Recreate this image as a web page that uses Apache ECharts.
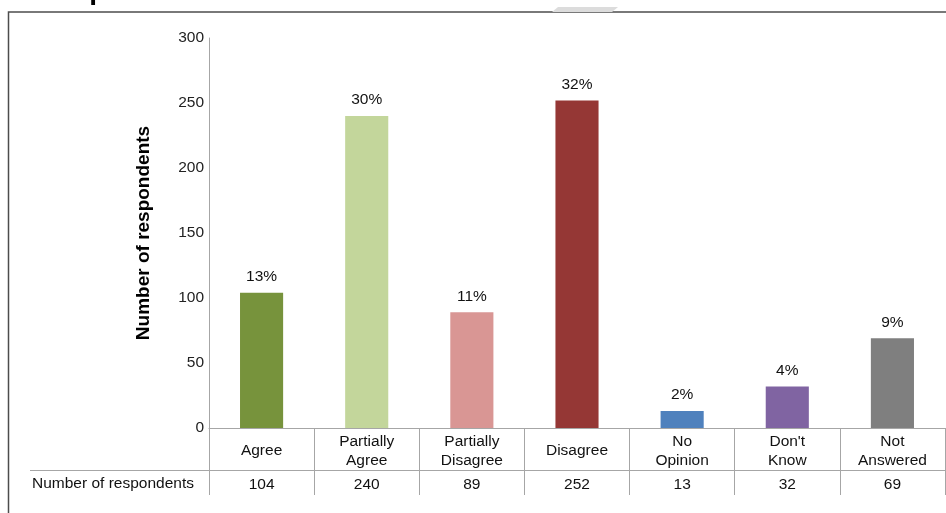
<!DOCTYPE html>
<html>
<head>
<meta charset="utf-8">
<script src="https://cdn.jsdelivr.net/npm/echarts@6/dist/echarts.min.js"></script>
<style>
html,body{margin:0;padding:0;background:#fff;}
#chart{width:946px;height:513px;}
</style>
</head>
<body>
<div id="chart"></div>
<script>
// ---- data ----
var categories = ['Agree', 'Partially\nAgree', 'Partially\nDisagree', 'Disagree', 'No\nOpinion', "Don't\nKnow", 'Not\nAnswered'];
var respondents = [104, 240, 89, 252, 13, 32, 69];
var percentLabels = ['13%', '30%', '11%', '32%', '2%', '4%', '9%'];
var barColors = ['#77933C', '#C3D69B', '#D99694', '#953735', '#4F81BD', '#8064A2', '#7F7F7F'];
var seriesName = 'Number of respondents';
var yTicks = [0, 50, 100, 150, 200, 250, 300];
var titleText = 'Responses';

var FONT = 'Liberation Sans, Arial, sans-serif';
var chart = echarts.init(document.getElementById('chart'));

var option = {
  animation: false,
  backgroundColor: '#fff',
  grid: { left: 209, right: 1, top: 38, bottom: 85, containLabel: false },
  xAxis: [
    {
      type: 'category',
      data: categories,
      position: 'bottom',
      axisLine: { show: true, lineStyle: { color: '#a6a6a6', width: 1 } },
      axisTick: { show: true, alignWithLabel: false, length: 42, lineStyle: { color: '#a6a6a6' } },
      axisLabel: { color: '#111', fontFamily: FONT, fontSize: 15.5, lineHeight: 19, margin: 23, verticalAlign: 'middle', interval: 0 }
    },
    {
      type: 'category',
      data: respondents.map(String),
      position: 'bottom',
      offset: 42,
      axisLine: { show: true, lineStyle: { color: '#a6a6a6', width: 1 } },
      axisTick: { show: true, alignWithLabel: false, length: 25, lineStyle: { color: '#a6a6a6' } },
      axisLabel: { color: '#111', fontFamily: FONT, fontSize: 15.5, margin: 15, verticalAlign: 'middle', interval: 0 }
    }
  ],
  yAxis: {
    type: 'value',
    min: yTicks[0],
    max: yTicks[yTicks.length - 1],
    interval: yTicks[1] - yTicks[0],
    name: seriesName,
    nameLocation: 'middle',
    nameGap: 56,
    nameRotate: 90,
    nameTextStyle: { fontFamily: FONT, fontSize: 19, fontWeight: 'bold', color: '#000' },
    axisLine: { show: true, lineStyle: { color: '#a6a6a6' } },
    axisTick: { show: false },
    splitLine: { show: false },
    axisLabel: { color: '#222', fontFamily: FONT, fontSize: 15.5, margin: 5 }
  },
  series: [
    {
      type: 'bar',
      name: seriesName,
      xAxisIndex: 0,
      barWidth: '41%',
      data: respondents.map(function (v, i) {
        return { value: v, itemStyle: { color: barColors[i] } };
      }),
      label: {
        show: true,
        position: 'top',
        distance: 8,
        fontFamily: FONT,
        fontSize: 15.5,
        color: '#111',
        formatter: function (p) { return percentLabels[p.dataIndex]; }
      }
    }
  ],
  graphic: [
    {
      type: 'rect',
      shape: { x: 8.5, y: 12, width: 980, height: 560 },
      style: { fill: null, stroke: '#4d4d4d', lineWidth: 1.5 },
      silent: true
    },
    {
      type: 'polygon',
      shape: { points: [[558, 7], [618, 7], [612, 12], [552, 12]] },
      style: { fill: '#dcdcdc' },
      silent: true
    },
    {
      type: 'text',
      left: 38,
      top: -23,
      style: { text: titleText, font: 'bold 28px ' + FONT, fill: '#000' },
      silent: true
    },
    {
      type: 'line',
      shape: { x1: 30, y1: 470.5, x2: 209, y2: 470.5 },
      style: { stroke: '#a6a6a6', lineWidth: 1 },
      silent: true
    },
    {
      type: 'text',
      left: 32,
      top: 476,
      style: { text: seriesName, font: '15.5px ' + FONT, fill: '#111' },
      silent: true
    }
  ]
};
chart.setOption(option);
</script>
</body>
</html>
